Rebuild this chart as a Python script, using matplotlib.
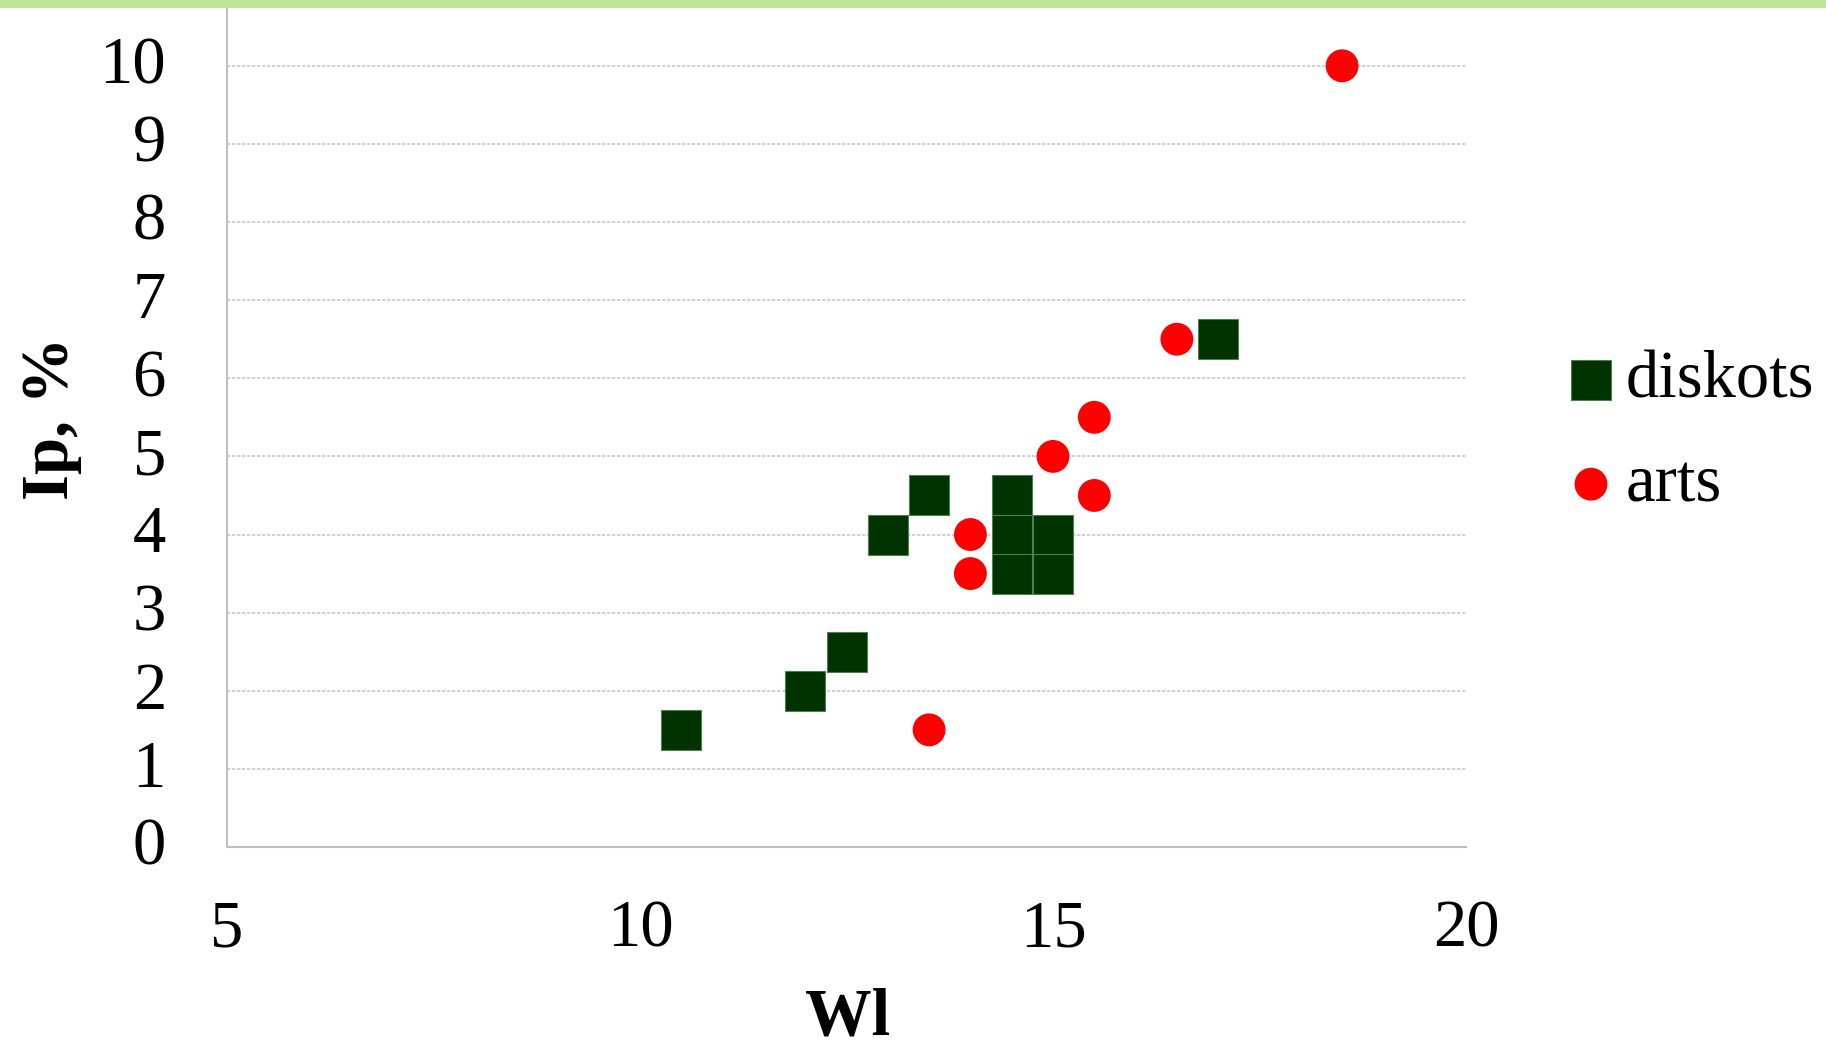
import matplotlib
matplotlib.use("Agg")
import matplotlib.pyplot as plt
from matplotlib.patches import Rectangle
from matplotlib.transforms import ScaledTranslation

# Series values
diskots_wl = [10.5, 12.0, 12.5, 13.0, 13.5, 14.5, 14.5, 14.5, 15.0, 15.0, 17.0]
diskots_ip = [1.5, 2.0, 2.5, 4.0, 4.5, 4.5, 4.0, 3.5, 4.0, 3.5, 6.5]

arts_wl = [13.5, 14.0, 14.0, 15.0, 15.5, 15.5, 16.5, 18.5]
arts_ip = [1.5, 3.5, 4.0, 5.0, 4.5, 5.5, 6.5, 10.0]

x_ticks = [5, 10, 15, 20]
y_ticks = list(range(0, 11))

plt.rcParams['font.family'] = ['Liberation Serif', 'DejaVu Serif']

W, H = 1826, 1046
fig = plt.figure(figsize=(W / 100, H / 100), dpi=100)
fig.patch.set_facecolor('white')

# thin green band along the top edge
fig.add_artist(Rectangle((0, 1 - 8 / H), 1, 8 / H, transform=fig.transFigure,
                         facecolor='#c0e39a', edgecolor='none'))

ax = fig.add_axes([227 / W, 199 / H, (1466 - 227) / W, (847 - 8) / H])
ax.set_xlim(5, 20)
ax.set_ylim(0, 10.74)

ax.scatter(diskots_wl, diskots_ip, marker='s', s=830, color='#003300',
           edgecolors='#4f7f4f', linewidths=0.8, label='diskots', zorder=3)
ax.scatter(arts_wl, arts_ip, marker='o', s=560, color='#ff0000',
           edgecolors='none', label='arts', zorder=3)

ax.set_xticks(x_ticks)
ax.set_yticks(y_ticks)
ax.tick_params(axis='both', length=0, labelsize=48, colors='black')
ax.tick_params(axis='x', pad=38)
ax.tick_params(axis='y', pad=44)

# nudge the y tick labels up a little
lift = ScaledTranslation(0, 4 / 72, fig.dpi_scale_trans)
for lbl in ax.get_yticklabels():
    lbl.set_transform(lbl.get_transform() + lift)

ax.grid(axis='y', color='#c8c8c8', linestyle=(0, (2, 1)), linewidth=1.2, zorder=0)
ax.set_axisbelow(True)

for side in ['top', 'right']:
    ax.spines[side].set_visible(False)
for side in ['left', 'bottom']:
    ax.spines[side].set_color('#bfbfbf')
    ax.spines[side].set_linewidth(1.5)

# axis titles
fig.text(848 / W, 1 - 1034 / H, 'Wl', fontsize=48, fontweight='bold',
         ha='center', va='baseline')
fig.text(52 / W, 1 - 418 / H, 'Ip, %', fontsize=48, fontweight='bold',
         rotation=90, ha='center', va='center')

leg = fig.legend(loc='center left', bbox_to_anchor=(1571 / W, 1 - 433 / H),
                 frameon=False, fontsize=48, handlelength=0.6, handletextpad=0.22,
                 labelspacing=0.65, borderaxespad=0, borderpad=0, markerscale=1.0)

fig.savefig('out.png', dpi=100, facecolor='white')
